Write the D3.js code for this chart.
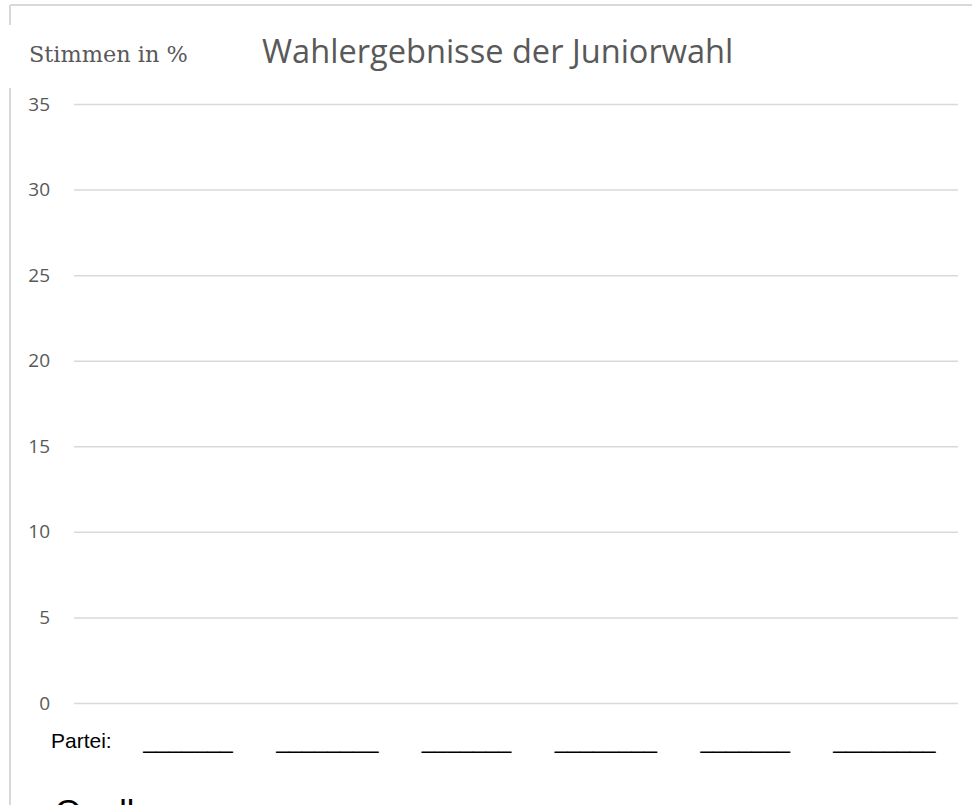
<!DOCTYPE html>
<html>
<head>
<meta charset="utf-8">
<script src="https://cdn.jsdelivr.net/npm/d3@7"></script>
<style>
  body { margin: 0; background: #fff; }
  svg { display: block; }
</style>
</head>
<body>
<svg width="972" height="805"></svg>
<script>
// Daten (leere Vorlage, Balken werden von Hand eingetragen)
const parteien = ["p1", "p2", "p3", "p4", "p5", "p6"];
const luecken = ["_______", "________", "_______", "________", "_______", "________"];
const stimmen = [null, null, null, null, null, null];
const yTicks = [0, 5, 10, 15, 20, 25, 30, 35];

const svg = d3.select("svg");
const grau = "#d9d9d9";
const textGrau = "#595959";

// Rahmen (oben und links)
svg.append("line").attr("x1", 10).attr("x2", 972).attr("y1", 5).attr("y2", 5)
  .attr("stroke", grau).attr("stroke-width", 2);
svg.append("line").attr("x1", 10).attr("x2", 10).attr("y1", 5).attr("y2", 805)
  .attr("stroke", grau).attr("stroke-width", 2);

// weisses Feld hinter der Achsenbeschriftung
svg.append("rect").attr("x", 0).attr("y", 25).attr("width", 195).attr("height", 63)
  .attr("fill", "#fff");

const y = d3.scaleLinear().domain([0, 35]).range([703, 104]);
const x = d3.scalePoint().domain(parteien).range([188, 884.5]);

// Gitterlinien + Beschriftung
const yAxis = svg.append("g")
  .attr("transform", "translate(74,0)")
  .call(d3.axisLeft(y).tickValues(yTicks).tickSize(-884).tickPadding(24).tickFormat(d3.format("d")));
yAxis.select(".domain").remove();
yAxis.selectAll(".tick line").attr("stroke", grau).attr("stroke-width", 1.5);
yAxis.selectAll(".tick text")
  .attr("fill", textGrau)
  .style("font-family", "'Open Sans', sans-serif")
  .style("font-size", "19px");

// Balken (keine Werte eingetragen)
const barBreite = 90;
svg.append("g").selectAll("rect")
  .data(parteien.map((p, i) => ({ p, v: stimmen[i] })).filter(d => d.v != null))
  .enter().append("rect")
  .attr("x", d => x(d.p) - barBreite / 2)
  .attr("width", barBreite)
  .attr("y", d => y(d.v))
  .attr("height", d => y(0) - y(d.v))
  .attr("fill", "#4472c4");

// Titel
svg.append("text").attr("x", 262).attr("y", 63)
  .attr("fill", textGrau)
  .style("font-family", "'Open Sans', sans-serif")
  .style("font-size", "32.6px")
  .text("Wahlergebnisse der Juniorwahl");

svg.append("text").attr("x", 29).attr("y", 62)
  .attr("fill", textGrau)
  .style("font-family", "'DejaVu Serif', serif")
  .style("font-size", "22.4px")
  .text("Stimmen in %");

// Parteien-Zeile
svg.append("text").attr("x", 51).attr("y", 748)
  .style("font-family", "Arial, 'Liberation Sans', sans-serif")
  .style("font-size", "21px")
  .text("Partei:");

svg.append("g").selectAll("text")
  .data(parteien)
  .enter().append("text")
  .attr("x", d => x(d))
  .attr("y", 748)
  .attr("text-anchor", "middle")
  .style("font-family", "Arial, 'Liberation Sans', sans-serif")
  .style("font-size", "23px")
  .text((d, i) => luecken[i]);

svg.append("text").attr("x", 55).attr("y", 823)
  .style("font-family", "Arial, 'Liberation Sans', sans-serif")
  .style("font-size", "34px")
  .text("Quelle:");
</script>
</body>
</html>
